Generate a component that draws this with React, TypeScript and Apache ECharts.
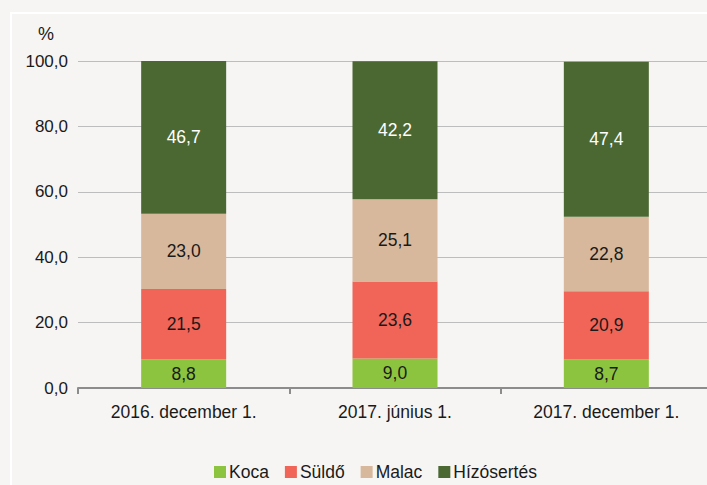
import React, { useEffect, useRef } from "react";
import * as echarts from "echarts";

const categories = ["2016. december 1.", "2017. június 1.", "2017. december 1."];
const koca = [8.8, 9.0, 8.7];
const suldo = [21.5, 23.6, 20.9];
const malac = [23.0, 25.1, 22.8];
const hizo = [46.7, 42.2, 47.4];
const seriesNames = ["Koca", "Süldő", "Malac", "Hízósertés"];
const colors = ["#8dc43f", "#f06557", "#d8b89c", "#4b6833"];

const FONT = "'Liberation Sans', Arial, sans-serif";
const fmt = (v: number) => v.toFixed(1).replace(".", ",");

export default function App() {
  const ref = useRef<HTMLDivElement>(null);
  useEffect(() => {
    document.body.style.margin = "0";
    document.body.style.overflow = "hidden";
    const chart = echarts.init(ref.current!, null, { renderer: "svg" });
    const data = [koca, suldo, malac, hizo];
    chart.setOption({
      animation: false,
      backgroundColor: "#f6f5f3",
      textStyle: { fontFamily: FONT },
      graphic: [
        {
          type: "rect",
          shape: { x: 11, y: 13, width: 720, height: 500 },
          style: { fill: "none", stroke: "#ffffff", lineWidth: 2 },
          z: 0,
        },
        {
          type: "text",
          x: 46,
          y: 34,
          style: { text: "%", fill: "#1a1a1a", font: `18px ${FONT}`, textAlign: "center", textVerticalAlign: "middle" },
        },
      ],
      legend: {
        left: 209,
        top: 458,
        itemWidth: 12,
        itemHeight: 12,
        itemGap: 16,
        icon: "rect",
        textStyle: { fontSize: 17.5, color: "#1a1a1a", fontFamily: FONT, padding: [0, 0, 0, -2] },
        data: seriesNames,
      },
      grid: { left: 78, top: 61, width: 634, height: 327, containLabel: false },
      xAxis: {
        type: "category",
        data: categories,
        axisLine: { lineStyle: { color: "#8c8c8c", width: 2 } },
        axisTick: { show: true, length: 6, lineStyle: { color: "#8c8c8c", width: 2 } },
        axisLabel: { interval: 0, fontSize: 17.5, color: "#1a1a1a", margin: 15, fontFamily: FONT },
      },
      yAxis: {
        type: "value",
        min: 0,
        max: 100,
        interval: 20,
        axisLine: { show: false },
        axisTick: { show: false },
        splitLine: { lineStyle: { color: "#bdbdbd", width: 1 } },
        axisLabel: { fontSize: 17, color: "#1a1a1a", margin: 10, fontFamily: FONT, formatter: (v: number) => fmt(v) },
      },
      series: seriesNames.map((name, i) => ({
        name,
        type: "bar",
        stack: "total",
        barWidth: 85,
        data: data[i],
        itemStyle: { color: colors[i] },
        label: {
          show: true,
          position: "inside",
          fontSize: 17.5,
          fontFamily: FONT,
          color: i === 3 ? "#ffffff" : "#1a1a1a",
          formatter: (p: any) => fmt(p.value),
        },
      })),
    });
    return () => chart.dispose();
  }, []);
  return <div ref={ref} style={{ width: 716, height: 485 }} />;
}
